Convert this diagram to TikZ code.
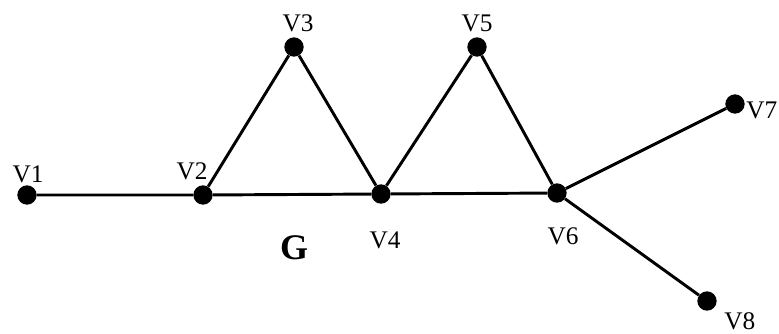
\documentclass[tikz,border=0pt]{standalone}
\usepackage{fontspec}
\setmainfont{Liberation Serif}
\begin{document}
\begin{tikzpicture}[x=0.75pt,y=-0.75pt,
  vtx/.style={circle,fill=black,inner sep=0pt,minimum size=14.5pt},
  lbl/.style={inner sep=0pt,font=\fontsize{19}{21}\selectfont},
  edge/.style={line width=2.2pt}]
\useasboundingbox (0,0) rectangle (779,333);
\clip (0,0) rectangle (779,333);
\node[vtx] (v1) at (27,195) {};
\node[vtx] (v2) at (203,195) {};
\node[vtx] (v3) at (294,47) {};
\node[vtx] (v4) at (381,194) {};
\node[vtx] (v5) at (477,47) {};
\node[vtx] (v6) at (557,193) {};
\node[vtx] (v7) at (735,104) {};
\node[vtx] (v8) at (707,301) {};
\draw[edge] (v1) -- (v2) -- (v4) -- (v6);
\draw[edge] (v2) -- (v3) -- (v4) -- (v5) -- (v6);
\draw[edge] (v6) -- (v7);
\draw[edge] (v6) -- (v8);
\node[lbl] (l1) at (28,174) {V1};
\node[lbl] (l2) at (192,171) {V2};
\node[lbl] (l3) at (298,23) {V3};
\node[lbl] (l4) at (385,240) {V4};
\node[lbl] (l5) at (477,23) {V5};
\node[lbl] (l6) at (563,236) {V6};
\node[lbl,anchor=west] (l7) at (746,110) {V7};
\node[lbl,anchor=west] (l8) at (724,321) {V8};
\node[inner sep=0pt,font=\fontsize{27}{29}\selectfont\bfseries] (g) at (294,248) {G};
\end{tikzpicture}
\end{document}
